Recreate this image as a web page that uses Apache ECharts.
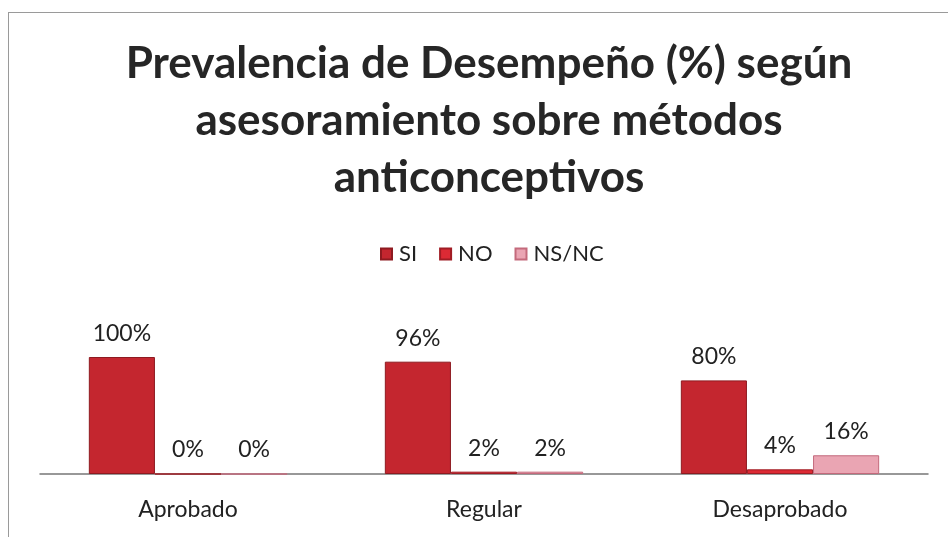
<!DOCTYPE html>
<html>
<head>
<meta charset="utf-8">
<script src="https://cdn.jsdelivr.net/npm/echarts@6/dist/echarts.min.js"></script>
<style>
  body { margin: 0; background: #fff; }
  #frame { position: absolute; left: 8px; top: 12px; width: 945px; height: 530px; border: 1px solid #9a9a9a; box-sizing: border-box; }
  #main { position: absolute; left: 0; top: 0; width: 948px; height: 537px; }
</style>
</head>
<body>
<div id="frame"></div>
<div id="main"></div>
<script>
var categories = ['Aprobado', 'Regular', 'Desaprobado'];
var seriesNames = ['SI', 'NO', 'NS/NC'];
var siValues = [100, 96, 80];
var noValues = [0, 2, 4];
var nsncValues = [0, 2, 16];

var chart = echarts.init(document.getElementById('main'));
var font = 'Lato, "Open Sans", sans-serif';

function barSeries(name, data, color, border) {
    return {
        type: 'bar',
        name: name,
        data: data,
        barGap: '0%',
        barCategoryGap: '33%',
        itemStyle: { color: color, borderColor: border, borderWidth: 1 },
        label: {
            show: true,
            position: 'top',
            distance: 12,
            formatter: '{c}%',
            color: '#222',
            fontSize: 23,
            fontFamily: font
        }
    };
}

chart.setOption({
    animation: false,
    title: {
        text: 'Prevalencia de Desempeño (%) según\nasesoramiento sobre métodos\nanticonceptivos',
        left: 484,
        textAlign: 'center',
        top: 30,
        textStyle: { fontSize: 44, fontWeight: 'bold', color: '#262626', fontFamily: font, lineHeight: 57 }
    },
    legend: {
        data: seriesNames,
        icon: 'rect',
        top: 238,
        left: 375,
        itemWidth: 11,
        itemHeight: 11,
        itemGap: 22,
        textStyle: { fontSize: 22, color: '#222', fontFamily: font, padding: [0, 0, 0, 2] }
    },
    grid: { left: 40, right: 20, top: 357, bottom: 63 },
    xAxis: {
        type: 'category',
        data: categories,
        axisLine: { lineStyle: { color: '#777', width: 1.5 } },
        axisTick: { show: false },
        axisLabel: { fontSize: 23, color: '#222', fontFamily: font, margin: 24 }
    },
    yAxis: {
        type: 'value',
        min: 0,
        max: 100,
        show: false
    },
    series: [
        barSeries('SI', siValues, '#c4262f', '#8e1a20'),
        barSeries('NO', noValues, '#dc2a34', '#a01c24'),
        barSeries('NS/NC', nsncValues, '#eaa5b3', '#c46a7c')
    ]
});
</script>
</body>
</html>
